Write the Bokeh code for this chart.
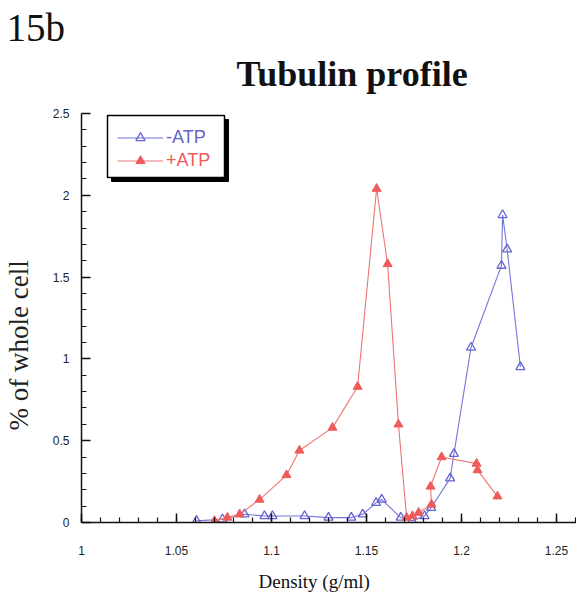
from bokeh.plotting import figure
from bokeh.models import (Range1d, SingleIntervalTicker, CustomJSTickFormatter, Title,
                          Legend, LegendItem, BoxAnnotation)
from bokeh.embed import file_html
from bokeh.resources import INLINE

# ---------------- data ----------------
minus_atp_density = [1.0605, 1.0742, 1.0858, 1.0963, 1.1005, 1.1174, 1.130, 1.142, 1.148,
                     1.155, 1.158, 1.168, 1.174, 1.1805, 1.184, 1.194, 1.196, 1.205,
                     1.221, 1.2216, 1.224, 1.231]
minus_atp_pct = [0.01, 0.02, 0.05, 0.04, 0.04, 0.04, 0.03, 0.03, 0.05,
                 0.12, 0.14, 0.03, 0.01, 0.04, 0.09, 0.27, 0.42, 1.07,
                 1.57, 1.88, 1.67, 0.95]

plus_atp_density = [1.070, 1.0768, 1.0832, 1.0937, 1.1079, 1.1147, 1.1321, 1.1453, 1.1553,
                    1.1611, 1.1668, 1.1711, 1.1742, 1.1774, 1.1842, 1.1837, 1.1895,
                    1.2079, 1.2084, 1.2189]
plus_atp_pct = [0.01, 0.03, 0.05, 0.14, 0.29, 0.44, 0.58, 0.83, 2.04,
                1.58, 0.60, 0.03, 0.04, 0.06, 0.11, 0.22, 0.40,
                0.36, 0.32, 0.16]

series_labels = ["-ATP", "+ATP"]
title_text = "Tubulin profile"
panel_text = "15b"
x_label = "Density (g/ml)"
y_label = "% of whole cell"

# ---------------- layout ----------------
W, H = 576, 596
FL, FT, FB = 81, 113, 522          # frame left, top, bottom (px)
FR = W
X0, X1 = 1.0, 1.2605
Y0, Y1 = 0.0, 2.5

def px2x(px):
    return X0 + (px - FL) * (X1 - X0) / (FR - FL)

def px2y(py):
    return Y0 + (FB - py) * (Y1 - Y0) / (FB - FT)

BLUE = "#6464d2"
BLUE_LINE = "#7474dc"
RED = "#f05a5a"
RED_LINE = "#f07474"
INK = "#111111"

p = figure(width=W, height=H, output_backend="svg", toolbar_location=None,
           x_range=Range1d(X0, X1), y_range=Range1d(Y0, Y1),
           min_border_left=FL, min_border_right=0, min_border_top=FT,
           min_border_bottom=H - FB)
p.outline_line_color = None
p.xgrid.visible = False
p.ygrid.visible = False
p.background_fill_color = "white"
p.border_fill_color = "white"

fmt = CustomJSTickFormatter(code="return String(parseFloat(tick.toFixed(2)));")

p.xaxis.ticker = SingleIntervalTicker(interval=0.05, num_minor_ticks=5)
p.yaxis.ticker = SingleIntervalTicker(interval=0.5, num_minor_ticks=5)
for ax in (p.xaxis, p.yaxis):
    ax.formatter = fmt
    ax.axis_line_color = INK
    ax.axis_line_width = 1.5
    ax.major_tick_line_color = INK
    ax.minor_tick_line_color = INK
    ax.major_tick_line_width = 1.5
    ax.minor_tick_line_width = 1.2
    ax.major_tick_out = 0
    ax.major_tick_in = 9
    ax.minor_tick_out = 0
    ax.minor_tick_in = 5
    ax.major_label_text_font = "Liberation Sans"
    ax.major_label_text_font_size = "12px"
    ax.major_label_text_color = "#222222"
p.xaxis.major_label_standoff = 23
p.yaxis.major_label_standoff = 12

# ---------------- series ----------------
bl = p.line(minus_atp_density, minus_atp_pct, line_color=BLUE_LINE, line_width=1.1)
bs = p.scatter(minus_atp_density, minus_atp_pct, marker="triangle", size=9,
               fill_color=None, line_color=BLUE, line_width=1.3)
rl = p.line(plus_atp_density, plus_atp_pct, line_color=RED_LINE, line_width=1.1)
rs = p.scatter(plus_atp_density, plus_atp_pct, marker="triangle", size=9,
               fill_color=RED, line_color=RED, line_width=1)

# ---------------- legend box with shadow ----------------
LB_L, LB_T, LB_R, LB_B = 107, 115, 224, 177
SH = 4
shadow = BoxAnnotation(left=px2x(LB_L + SH), right=px2x(LB_R + SH),
                       top=px2y(LB_T + SH), bottom=px2y(LB_B + SH),
                       fill_color="black", fill_alpha=1, line_color="black", line_alpha=1,
                       line_width=1)
box = BoxAnnotation(left=px2x(LB_L), right=px2x(LB_R), top=px2y(LB_T), bottom=px2y(LB_B),
                    fill_color="white", fill_alpha=1, line_color="black", line_alpha=1,
                    line_width=1.5)
p.add_layout(shadow)
p.add_layout(box)

ROW_H = 23
for i, (lab, rends, col) in enumerate([(series_labels[0], [bl, bs], BLUE),
                                        (series_labels[1], [rl, rs], RED)]):
    row_center = 137 + i * ROW_H
    leg = Legend(items=[LegendItem(label=lab, renderers=rends)],
                 location=(117 - FL, FB - (row_center + ROW_H / 2)),
                 padding=0, margin=0, spacing=0,
                 glyph_width=46, glyph_height=ROW_H, label_height=ROW_H,
                 label_standoff=3,
                 label_text_font="Liberation Sans", label_text_font_size="18px",
                 label_text_color=col, label_text_baseline="middle",
                 border_line_color=None, background_fill_alpha=0)
    p.add_layout(leg)

# ---------------- texts (titles in side panels) ----------------
p.add_layout(Title(text=title_text, align="left", offset=155,
                   text_font="Liberation Serif", text_font_size="36px",
                   text_font_style="bold", text_color=INK, standoff=0,
                   padding=dict(left=0, right=0, top=0, bottom=20)), "above")
p.add_layout(Title(text=panel_text, align="left", offset=-75,
                   text_font="Liberation Serif", text_font_size="39px",
                   text_font_style="normal", text_color=INK, standoff=0,
                   padding=dict(left=0, right=0, top=0, bottom=3)), "above")
p.add_layout(Title(text=x_label, align="left", offset=177,
                   text_font="Liberation Serif", text_font_size="19px",
                   text_font_style="normal", text_color=INK, standoff=0,
                   padding=dict(left=0, right=0, top=11, bottom=0)), "below")
p.add_layout(Title(text=y_label, align="left", offset=92,
                   text_font="Liberation Serif", text_font_size="27px",
                   text_font_style="normal", text_color="#222222", standoff=0,
                   padding=dict(left=0, right=0, top=0, bottom=16)), "left")

open("out.html", "w").write(file_html(p, INLINE))
